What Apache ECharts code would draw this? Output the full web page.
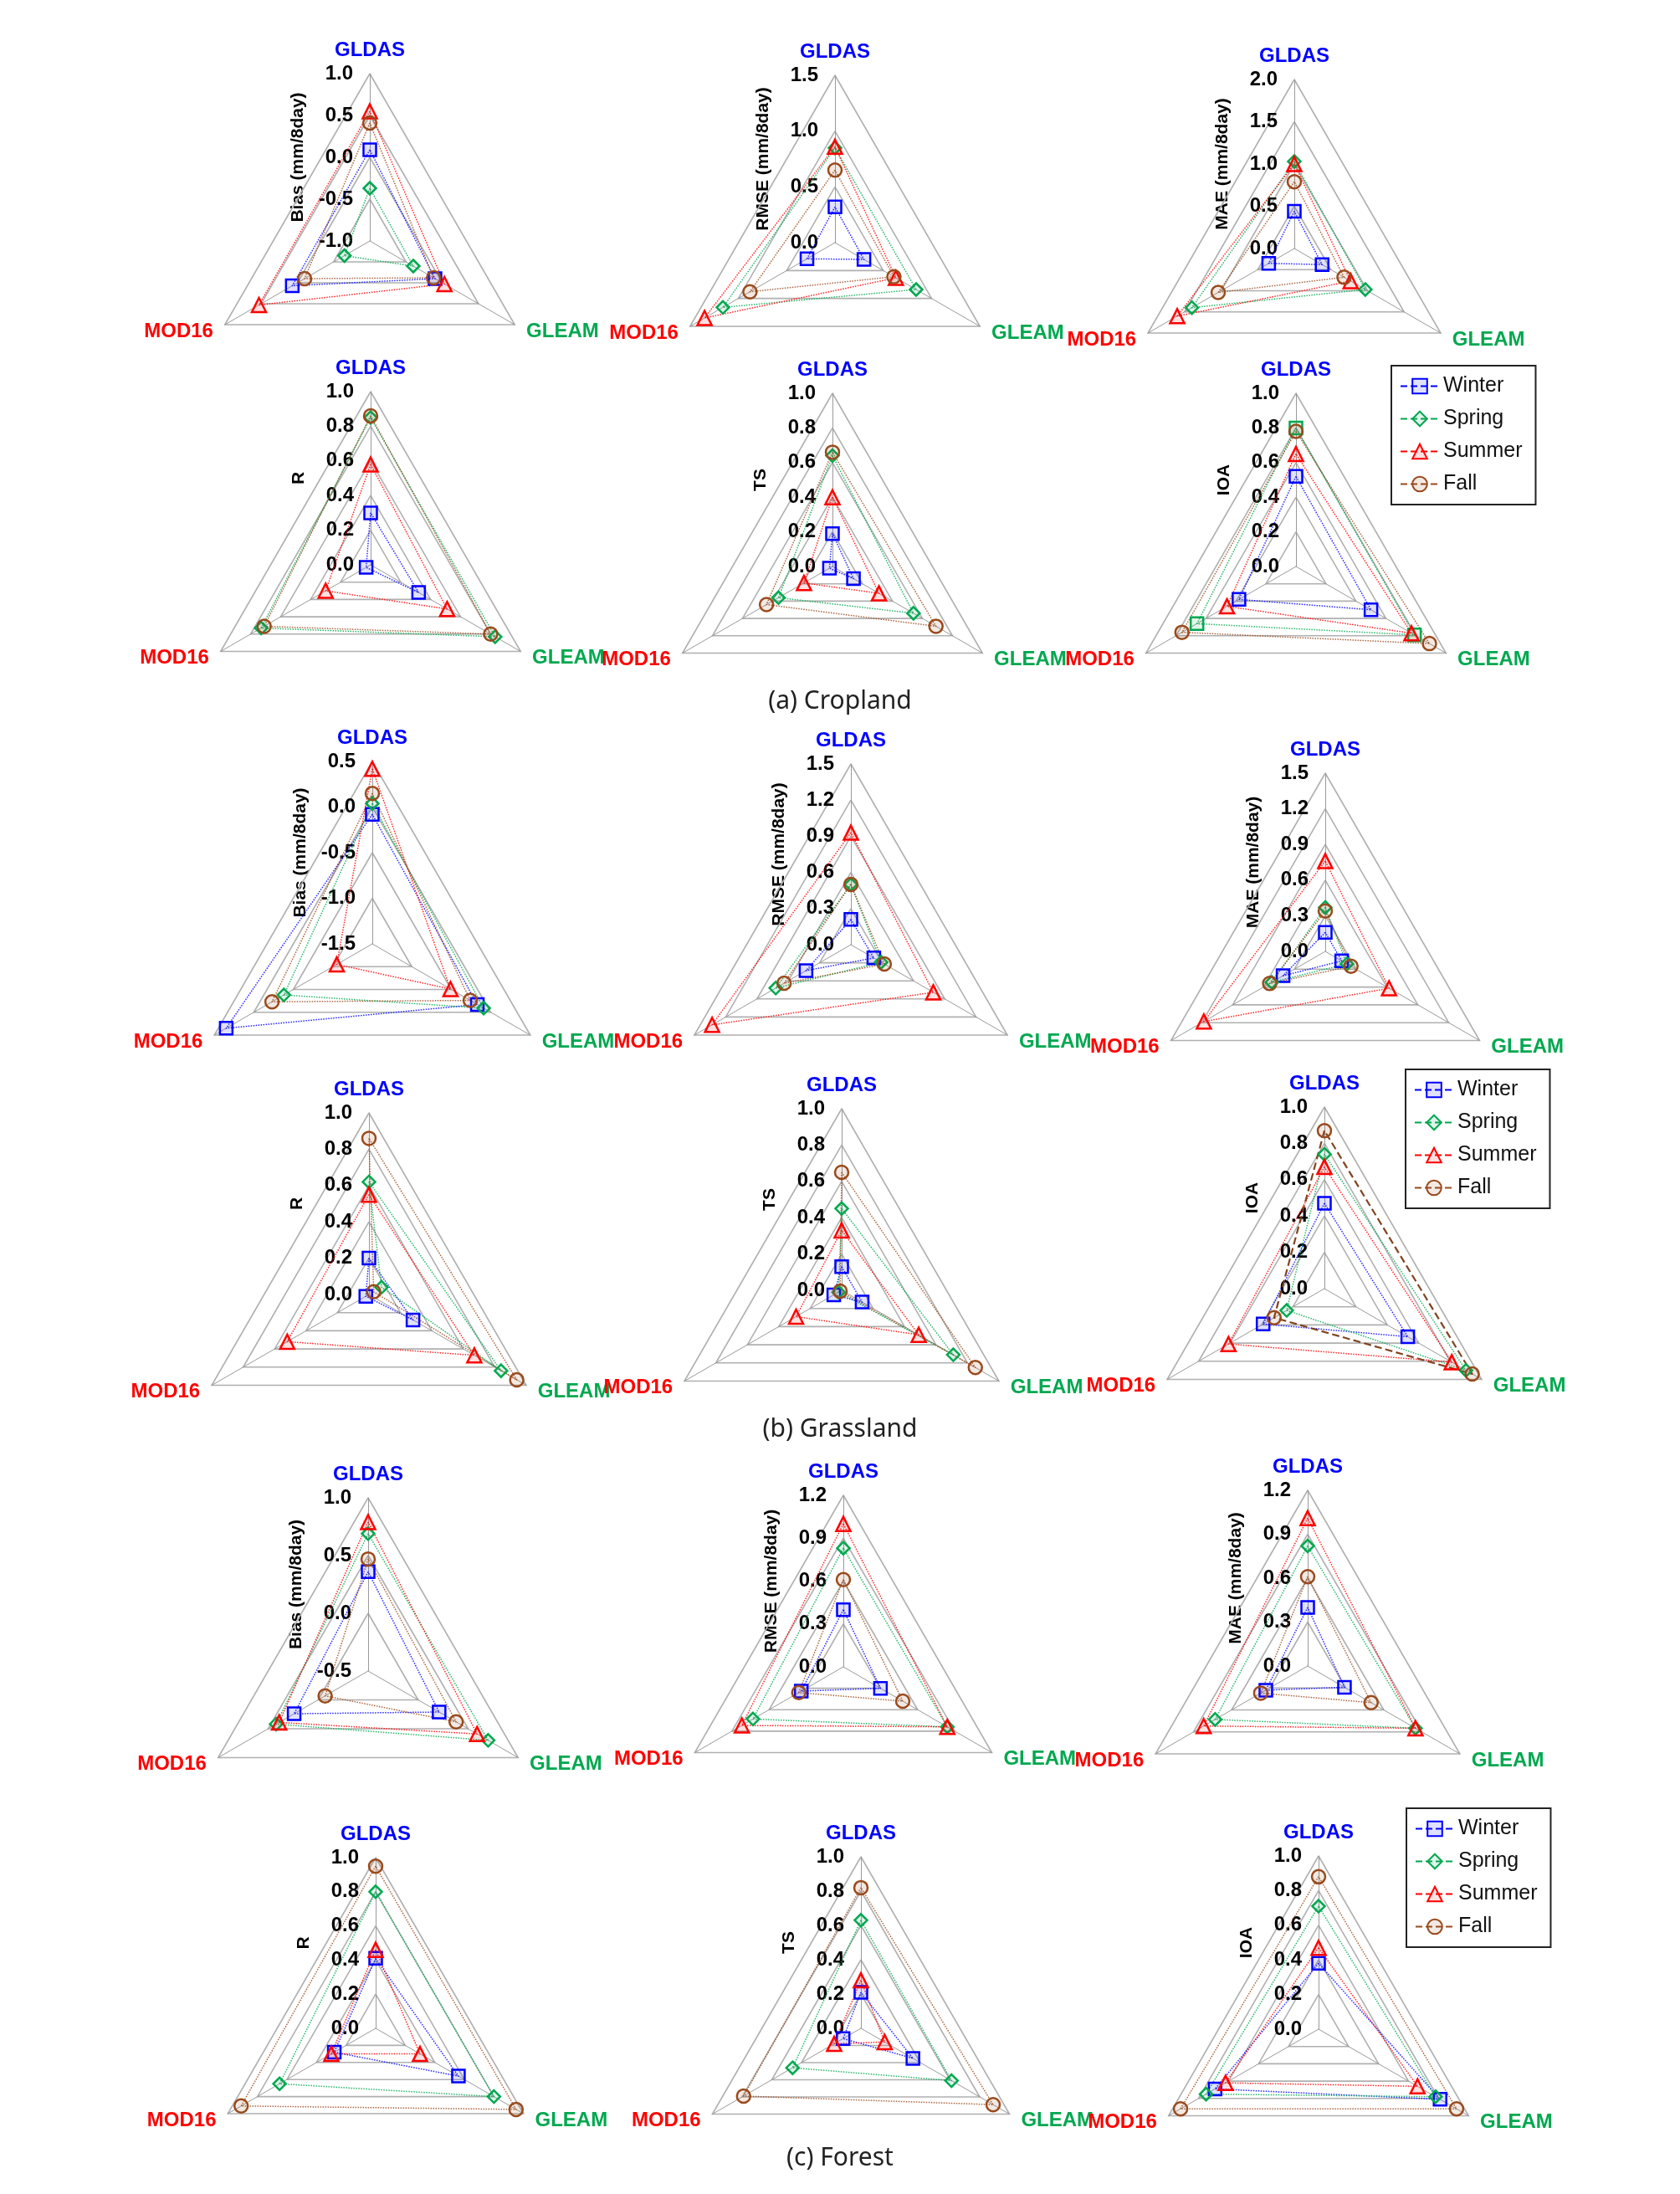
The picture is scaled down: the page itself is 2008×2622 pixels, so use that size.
<!DOCTYPE html>
<html>
<head>
<meta charset="utf-8">
<title>Seasonal ET radar charts</title>
<script src="https://cdn.jsdelivr.net/npm/echarts@6/dist/echarts.min.js"></script>
<style>
  html, body { margin: 0; padding: 0; background: #fff; }
  #main { width: 2008px; height: 2622px; }
</style>
</head>
<body>
<div id="main"></div>
<script>
// products on the three radar axes (top, lower-left, lower-right)
var products = ['GLDAS', 'MOD16', 'GLEAM'];
var seasons = ['Winter', 'Spring', 'Summer', 'Fall'];

// axis tick labels
var biasTicksCrop = [-1.0, -0.5, 0.0, 0.5, 1.0];
var rmseTicksCrop = [0.0, 0.5, 1.0, 1.5];
var maeTicksCrop = [0.0, 0.5, 1.0, 1.5, 2.0];
var biasTicksGrass = [-1.5, -1.0, -0.5, 0.0, 0.5];
var errTicksGrass = [0.0, 0.3, 0.6, 0.9, 1.2, 1.5];
var biasTicksForest = [-0.5, 0.0, 0.5, 1.0];
var errTicksForest = [0.0, 0.3, 0.6, 0.9, 1.2];
var unitTicks = [0.0, 0.2, 0.4, 0.6, 0.8, 1.0];

// values: one row per season (Winter, Spring, Summer, Fall), columns GLDAS, MOD16, GLEAM
// (a) Cropland
var cropBias = [[0.09, 0.07, -0.10], [-0.37, -0.65, -0.40], [0.55, 0.53, 0.03], [0.41, -0.10, -0.12]];
var cropRmse = [[0.32, 0.29, 0.30], [0.85, 1.16, 0.84], [0.86, 1.35, 0.63], [0.65, 0.88, 0.61]];
var cropMae = [[0.44, 0.35, 0.38], [1.03, 1.40, 0.97], [1.00, 1.60, 0.77], [0.79, 1.04, 0.68]];
var cropR = [[0.30, 0.03, 0.32], [0.85, 0.73, 0.83], [0.58, 0.30, 0.51], [0.86, 0.71, 0.80]];
var cropTs = [[0.19, 0.02, 0.14], [0.64, 0.36, 0.54], [0.40, 0.19, 0.31], [0.66, 0.44, 0.69]];
var cropIoa = [[0.52, 0.38, 0.50], [0.80, 0.66, 0.79], [0.65, 0.46, 0.77], [0.78, 0.76, 0.89]];
// (b) Grassland
var grassBias = [[-0.08, 0.35, -0.17], [0.04, -0.38, -0.09], [0.42, -1.05, -0.51], [0.15, -0.23, -0.26]];
var grassRmse = [[0.21, 0.43, 0.22], [0.50, 0.72, 0.29], [0.93, 1.33, 0.79], [0.50, 0.64, 0.32]];
var grassMae = [[0.16, 0.41, 0.16], [0.37, 0.52, 0.21], [0.76, 1.18, 0.62], [0.34, 0.54, 0.25]];
var grassR = [[0.20, 0.02, 0.28], [0.62, -0.08, 0.84], [0.55, 0.52, 0.67], [0.86, -0.03, 0.94]];
var grassTs = [[0.13, 0.05, 0.13], [0.45, 0.02, 0.71], [0.33, 0.29, 0.49], [0.65, 0.01, 0.85]];
var grassIoa = [[0.47, 0.39, 0.53], [0.74, 0.24, 0.90], [0.67, 0.61, 0.81], [0.87, 0.32, 0.94]];
// (c) Forest
var forestBias = [[0.36, 0.24, 0.21], [0.69, 0.42, 0.70], [0.79, 0.39, 0.59], [0.47, -0.07, 0.38]];
var forestRmse = [[0.40, 0.34, 0.30], [0.83, 0.73, 0.84], [1.00, 0.82, 0.84], [0.61, 0.36, 0.48]];
var forestMae = [[0.40, 0.33, 0.29], [0.82, 0.73, 0.85], [1.01, 0.82, 0.85], [0.61, 0.37, 0.50]];
var forestR = [[0.41, 0.28, 0.56], [0.80, 0.65, 0.80], [0.46, 0.30, 0.30], [0.95, 0.91, 0.95]];
var forestTs = [[0.21, 0.12, 0.35], [0.63, 0.46, 0.61], [0.28, 0.18, 0.16], [0.82, 0.79, 0.89]];
var forestIoa = [[0.38, 0.69, 0.81], [0.71, 0.75, 0.78], [0.47, 0.62, 0.66], [0.88, 0.92, 0.92]];

var captions = ['(a) Cropland', '(b) Grassland', '(c) Forest'];

// panels in reading order
var panels = [
  { data: cropBias, ticks: biasTicksCrop, name: 'Bias (mm/8day)' },
  { data: cropRmse, ticks: rmseTicksCrop, name: 'RMSE (mm/8day)' },
  { data: cropMae, ticks: maeTicksCrop, name: 'MAE (mm/8day)' },
  { data: cropR, ticks: unitTicks, name: 'R' },
  { data: cropTs, ticks: unitTicks, name: 'TS' },
  { data: cropIoa, ticks: unitTicks, name: 'IOA', springSymbol: 'rect' },
  { data: grassBias, ticks: biasTicksGrass, name: 'Bias (mm/8day)' },
  { data: grassRmse, ticks: errTicksGrass, name: 'RMSE (mm/8day)' },
  { data: grassMae, ticks: errTicksGrass, name: 'MAE (mm/8day)' },
  { data: grassR, ticks: unitTicks, name: 'R' },
  { data: grassTs, ticks: unitTicks, name: 'TS' },
  { data: grassIoa, ticks: unitTicks, name: 'IOA', fallDashed: true },
  { data: forestBias, ticks: biasTicksForest, name: 'Bias (mm/8day)' },
  { data: forestRmse, ticks: errTicksForest, name: 'RMSE (mm/8day)' },
  { data: forestMae, ticks: errTicksForest, name: 'MAE (mm/8day)' },
  { data: forestR, ticks: unitTicks, name: 'R' },
  { data: forestTs, ticks: unitTicks, name: 'TS' },
  { data: forestIoa, ticks: unitTicks, name: 'IOA' }
];

// layout (pixels)
var centers = [
  [442, 288], [998, 290], [1547, 297],
  [443, 675], [995, 677], [1549, 677],
  [445, 1128], [1017, 1129], [1584, 1137],
  [441, 1547], [1006, 1542], [1583, 1540],
  [440, 1997], [1008, 1992], [1563, 1991],
  [449, 2424], [1029, 2424], [1576, 2425]
];
var radii = [200, 200, 202, 207, 207, 207, 218, 216, 213, 217, 217, 217, 207, 205, 210, 204, 205, 207];
var legendPos = [[1663, 437], [1680, 1278], [1681, 2161]];
var captionTop = [818, 1688, 2559];

// styles
var productColors = ['#0000ff', '#ff0000', '#00a84f'];
var seasonColors = ['#0000ff', '#00a84f', '#ff0000', '#9a4a1c'];
var seasonFills = ['rgba(0,0,255,0.12)', 'rgba(0,168,79,0.12)', 'rgba(255,0,0,0.12)', 'rgba(154,74,28,0.12)'];
var seasonSymbols = ['rect', 'diamond', 'triangle', 'circle'];
var seasonSizes = [15, 15, 17, 16];
var narrow = "'Liberation Sans Narrow', 'Liberation Sans', Arial, sans-serif";

var chart = echarts.init(document.getElementById('main'));

var option = {
  backgroundColor: '#fff',
  animation: false,
  title: [],
  legend: [],
  radar: [],
  graphic: [],
  grid: { show: false, left: 0, top: 0, width: 10, height: 10 },
  xAxis: { type: 'value', show: false },
  yAxis: { type: 'value', show: false },
  series: []
};

// empty line series only feed the legend icons (line + marker)
seasons.forEach(function (s, k) {
  option.series.push({
    type: 'line', name: s, data: [],
    symbol: seasonSymbols[k], symbolSize: seasonSizes[k],
    itemStyle: { color: seasonFills[k], borderColor: seasonColors[k], borderWidth: 2.5 },
    lineStyle: { color: seasonColors[k], width: 2, type: 'dashed' }
  });
});

panels.forEach(function (p, i) {
  var t = p.ticks;
  var c = centers[i], r = radii[i];
  option.radar.push({
    center: c,
    radius: r,
    startAngle: 90,
    shape: 'polygon',
    splitNumber: t.length - 1,
    nameGap: 16,
    indicator: products.map(function (name, k) {
      return { name: name, min: t[0], max: t[t.length - 1], color: productColors[k], axisLabel: { show: k === 0 } };
    }),
    axisName: { fontSize: 24, fontWeight: 'bold', fontFamily: narrow },
    axisLine: { lineStyle: { color: '#9a9a9a', width: 1 } },
    axisTick: { show: false },
    axisLabel: {
      show: true, color: '#000', fontSize: 24, fontWeight: 'bold', fontFamily: narrow, margin: 20,
      formatter: function (v) { return Number(v).toFixed(1); }
    },
    splitLine: { lineStyle: { color: '#b0b0b0', width: 1.6 } },
    splitArea: { show: false }
  });

  p.data.forEach(function (vals, k) {
    var sym = (k === 1 && p.springSymbol) ? p.springSymbol : seasonSymbols[k];
    var dashed = (k === 3 && p.fallDashed);
    option.series.push({
      type: 'radar',
      name: seasons[k],
      radarIndex: i,
      symbol: sym,
      symbolSize: seasonSizes[k],
      itemStyle: { color: seasonFills[k], borderColor: seasonColors[k], borderWidth: 2.5 },
      lineStyle: dashed
        ? { color: '#7a3a12', width: 2.2, type: 'dashed', opacity: 0.95 }
        : { color: seasonColors[k], width: 1.5, type: 'dotted', opacity: 0.85 },
      data: [{ value: vals, name: seasons[k] }]
    });
  });

  // metric name written up the left side of the top axis
  option.graphic.push({
    type: 'text',
    x: c[0] - 86,
    y: c[1] - r / 2,
    rotation: Math.PI / 2,
    style: {
      text: p.name, fill: '#000', fontSize: 21, fontWeight: 'bold', fontFamily: 'Liberation Sans, Arial',
      align: 'center', verticalAlign: 'middle'
    }
  });
});

captions.forEach(function (txt, g) {
  option.title.push({
    text: txt, left: 'center', top: captionTop[g],
    textStyle: { fontSize: 30, fontWeight: 'normal', color: '#222', fontFamily: 'Noto Sans' }
  });
  option.legend.push({
    data: seasons,
    orient: 'vertical',
    left: legendPos[g][0], top: legendPos[g][1],
    padding: [12, 16, 12, 10],
    itemGap: 14, itemWidth: 46, itemHeight: 22,
    backgroundColor: '#fff', borderColor: '#222', borderWidth: 2,
    textStyle: { fontSize: 25, color: '#111', fontFamily: 'Liberation Sans, Arial' }
  });
});

chart.setOption(option);
</script>
</body>
</html>
